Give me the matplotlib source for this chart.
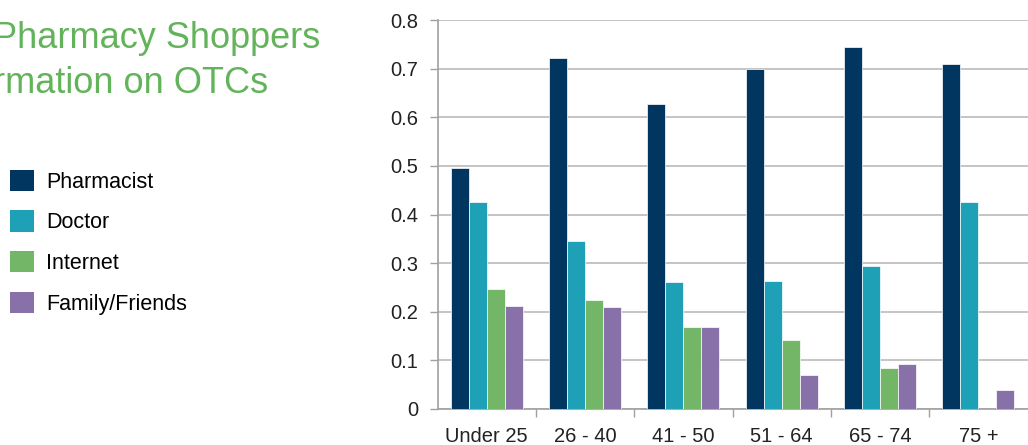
import numpy as np
import matplotlib
matplotlib.use("Agg")
import matplotlib.pyplot as plt
from matplotlib.patches import Patch
from matplotlib.ticker import MultipleLocator, FixedLocator

# age groups and share of shoppers using each source
age_groups = ["Under 25", "26 - 40", "41 - 50", "51 - 64", "65 - 74", "75 +"]
sources = ["Pharmacist", "Doctor", "Internet", "Family/Friends"]
pharmacist = [0.496, 0.722, 0.628, 0.700, 0.744, 0.709]
doctor = [0.425, 0.345, 0.261, 0.263, 0.294, 0.425]
internet = [0.246, 0.224, 0.169, 0.141, 0.084, 0.0]
family = [0.211, 0.209, 0.169, 0.069, 0.093, 0.039]
colors = ["#00365f", "#1ea0b7", "#74b667", "#8870a8"]

plt.rcParams['font.family'] = ['Liberation Sans', 'DejaVu Sans']

fig = plt.figure(figsize=(10.28, 4.45), dpi=100)
ax = fig.add_axes([437.5 / 1028, 1 - 409 / 445, 590 / 1028, 389 / 445])

x = np.arange(len(age_groups))
w = 0.183
series = [pharmacist, doctor, internet, family]
for i, vals in enumerate(series):
    ax.bar(x + (i - 1.5) * w, vals, width=w, color=colors[i],
           edgecolor="white", linewidth=0.5, zorder=3)

ax.set_xlim(-0.5, len(age_groups) - 0.5)
ax.set_ylim(0, 0.8)
ax.yaxis.set_major_locator(MultipleLocator(0.1))
ax.set_yticklabels([f"{v:g}" for v in np.round(ax.get_yticks(), 1)])
ax.grid(axis="y", color="#c4c4c4", linewidth=1.4, zorder=0)

ax.set_xticks(x)
ax.set_xticklabels(age_groups)
ax.xaxis.set_minor_locator(FixedLocator(np.arange(0.5, len(age_groups) - 0.5, 1)))
ax.tick_params(axis="x", which="major", length=0, pad=13, labelsize=14.5, labelcolor="#222222")
ax.tick_params(axis="x", which="minor", length=6, color="#a0a0a0", width=1)
ax.tick_params(axis="y", length=6, color="#a0a0a0", width=1, pad=8, labelsize=14.5, labelcolor="#222222")

for s in ["top", "right"]:
    ax.spines[s].set_visible(False)
for s in ["left", "bottom"]:
    ax.spines[s].set_color("#a0a0a0")
    ax.spines[s].set_linewidth(1.2)

# legend on the left
handles = [Patch(facecolor=c, edgecolor="none") for c in colors]
fig.legend(handles, sources, loc="upper left", bbox_to_anchor=(0.0, 1 - 160 / 445),
           frameon=False, prop={"size": 15.5},
           handlelength=1.15, handleheight=1.15, labelspacing=0.82, handletextpad=0.55,
           borderaxespad=0, borderpad=0.45)

# title, cropped at the left edge
green = "#62b35a"
fig.text(320 / 1028, 1 - 48 / 445, "Pharmacy Shoppers", ha="right", va="baseline",
         fontsize=26, color=green)
fig.text(268 / 1028, 1 - 93 / 445, "rmation on OTCs", ha="right", va="baseline",
         fontsize=26, color=green)

fig.savefig("out.png", dpi=100)
